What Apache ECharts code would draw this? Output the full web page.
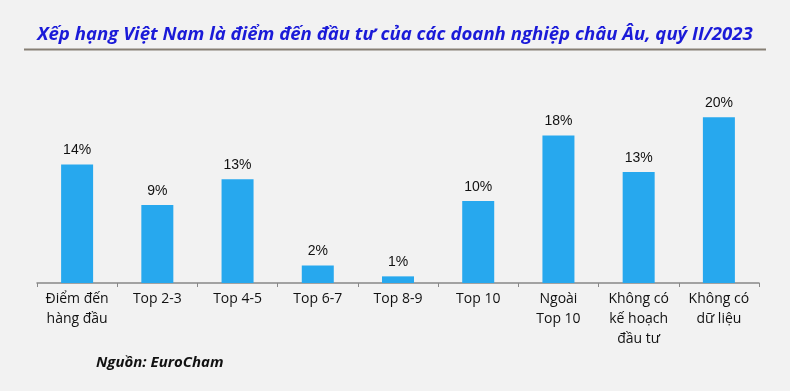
<!DOCTYPE html>
<html>
<head>
<meta charset="utf-8">
<script src="https://cdn.jsdelivr.net/npm/echarts@6/dist/echarts.min.js"></script>
<style>
html,body{margin:0;padding:0;background:#f2f2f2;}
#chart{width:790px;height:391px;}
</style>
</head>
<body>
<div id="chart"></div>
<script>
var categories = ['Điểm đến\nhàng đầu', 'Top 2-3', 'Top 4-5', 'Top 6-7', 'Top 8-9', 'Top 10', 'Ngoài\nTop 10', 'Không có\nkế hoạch\nđầu tư', 'Không có\ndữ liệu'];
var values = [14.3, 9.4, 12.5, 2.1, 0.8, 9.9, 17.8, 13.4, 20.0];
var titleText = 'Xếp hạng Việt Nam là điểm đến đầu tư của các doanh nghiệp châu Âu, quý II/2023';
var sourceText = 'Nguồn: EuroCham';

var chart = echarts.init(document.getElementById('chart'));
chart.setOption({
  backgroundColor: '#f2f2f2',
  animation: false,
  title: [{
    text: titleText,
    left: 'center',
    top: 20,
    textStyle: {fontFamily: 'Open Sans', fontStyle: 'italic', fontWeight: 'bold', fontSize: 18.6, color: '#1a1ad8'}
  }, {
    text: sourceText,
    left: 91,
    top: 350,
    textStyle: {fontFamily: 'Open Sans', fontStyle: 'italic', fontWeight: 'bold', fontSize: 15, color: '#111'}
  }],
  graphic: [{
    type: 'line',
    shape: {x1: 24, y1: 49.5, x2: 766, y2: 49.5},
    style: {stroke: '#867f74', lineWidth: 2}
  }],
  grid: {left: 37, right: 31, top: 84, bottom: 108},
  xAxis: {
    type: 'category',
    data: categories,
    axisLine: {lineStyle: {color: '#888', width: 1.5}},
    axisTick: {show: true, length: 4, lineStyle: {color: '#888'}},
    axisLabel: {interval: 0, margin: 6, fontFamily: 'Open Sans', fontSize: 14, lineHeight: 20, color: '#111'}
  },
  yAxis: {
    type: 'value', min: 0, max: 24,
    show: false,
    splitLine: {show: false}
  },
  series: [{
    type: 'bar',
    data: values,
    barWidth: 32,
    itemStyle: {color: '#27a8ee'},
    label: {
      show: true, position: 'top', distance: 7,
      fontFamily: 'Liberation Sans', fontSize: 14, color: '#111',
      formatter: function (p) { return Math.round(p.value) + '%'; }
    }
  }]
});
</script>
</body>
</html>
